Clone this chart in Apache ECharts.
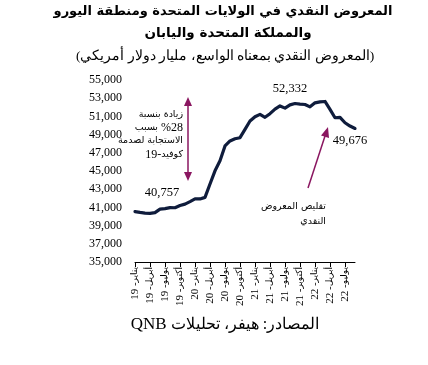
<!DOCTYPE html>
<html><head><meta charset="utf-8">
<script src="https://cdn.jsdelivr.net/npm/echarts@6/dist/echarts.min.js"></script>
<style>html,body{margin:0;padding:0;background:#fff}#c{width:428px;height:365px}</style>
</head><body><div id="c"></div>
<script>
const monthNames = ['يناير','فبراير','مارس','أبريل','مايو','يونيو','يوليو','أغسطس','سبتمبر','أكتوبر','نوفمبر','ديسمبر'];
const years = ['19','20','21','22'];
const monthCount = 45; // Jan 2019 .. Sep 2022
const categories = [];
for (let i = 0; i < monthCount; i++) categories.push(monthNames[i % 12] + '-' + years[Math.floor(i / 12)]);

const values2019 = [40540, 40450, 40380, 40350, 40430, 40810, 40870, 40980, 40960, 41200, 41360, 41630];
const values2020 = [41930, 41930, 42100, 43570, 45020, 46120, 47760, 48300, 48550, 48660, 49580, 50490];
const values2021 = [50960, 51220, 50900, 51300, 51800, 52150, 51910, 52270, 52420, 52350, 52310, 52050];
const values2022 = [52490, 52600, 52640, 51770, 50850, 50890, 50300, 49940, 49676];
const moneySupply = [].concat(values2019, values2020, values2021, values2022);

const yMin = 35000, yMax = 55000, yStep = 2000;

const titleLine1 = 'المعروض النقدي في الولايات المتحدة ومنطقة اليورو';
const titleLine2 = 'والمملكة المتحدة واليابان';
const subtitle = '(المعروض النقدي بمعناه الواسع، مليار دولار أمريكي)';
const sourceArabic = 'المصادر: هيفر، تحليلات';
const sourceLatin = 'QNB';
const labelStart = '40,757', labelPeak = '52,332', labelEnd = '49,676';

const serif = '"Liberation Serif", "DejaVu Serif", serif';
const sans = '"DejaVu Sans", "Liberation Sans", sans-serif';
const accent = '#8a1660';
const lineColor = '#0f1c3c';

const chart = echarts.init(document.getElementById('c'), null, {renderer: 'canvas'});

function txt(x, y, text, opts) {
  return Object.assign({type: 'text', x: x, y: y, style: Object.assign({
    text: text, fill: '#000', font: '12px ' + serif, align: 'center', verticalAlign: 'middle'
  }, opts || {})});
}
const noteRich = {
  ar: {fontFamily: sans, fontSize: 9.5, color: accent},
  nu: {fontFamily: serif, fontSize: 12, color: accent}
};

const graphics = [
  txt(223, 12, titleLine1, {font: 'bold 13px ' + sans}),
  txt(228, 33, titleLine2, {font: 'bold 13.5px ' + sans}),
  txt(225, 56, subtitle, {font: '13.5px ' + serif}),
  txt(225, 325, '{la|' + sourceLatin + ' }{ar|' + sourceArabic + '}', {
    rich: {la: {fontFamily: serif, fontSize: 17, color: '#000'}, ar: {fontFamily: serif, fontSize: 16, color: '#000'}}
  }),
  txt(162, 193, labelStart, {font: '12.5px ' + serif}),
  txt(290, 89, labelPeak, {font: '12.5px ' + serif}),
  txt(350, 141, labelEnd, {font: '12.5px ' + serif}),
  // annotation: increase due to covid response
  txt(183, 114.5, '{ar|زيادة بنسبة}', {align: 'right', rich: noteRich}),
  txt(183, 127.5, '{ar|بسبب}{nu| %28}', {align: 'right', rich: noteRich}),
  txt(183, 141, '{ar|الاستجابة لصدمة}', {align: 'right', rich: noteRich}),
  txt(183, 155, '{nu|19-}{ar|كوفيد}', {align: 'right', rich: noteRich}),
  // annotation: tightening
  txt(326, 207, '{ar|تقليص المعروض}', {align: 'right', rich: noteRich}),
  txt(326, 222, '{ar|النقدي}', {align: 'right', rich: noteRich}),
  // double arrow
  {type: 'line', shape: {x1: 188, y1: 104, x2: 188, y2: 174}, style: {stroke: accent, lineWidth: 1.5}},
  {type: 'polygon', shape: {points: [[188, 97], [184, 106], [192, 106]]}, style: {fill: accent}},
  {type: 'polygon', shape: {points: [[188, 181], [184, 172], [192, 172]]}, style: {fill: accent}},
  // single arrow
  {type: 'line', shape: {x1: 308, y1: 188, x2: 326, y2: 133}, style: {stroke: accent, lineWidth: 1.5}},
  {type: 'polygon', shape: {points: [[328, 127], [329, 138], [321, 135.5]]}, style: {fill: accent}}
];

chart.setOption({
  animation: false,
  backgroundColor: '#fff',
  grid: {left: 135, right: 73, top: 80, bottom: 103, containLabel: false},
  xAxis: {
    type: 'category', data: categories, boundaryGap: false,
    axisLine: {show: true, lineStyle: {color: '#000', width: 1}},
    axisTick: {show: true, interval: 2, length: 5, lineStyle: {color: '#000'}},
    axisLabel: {
      interval: 2, rotate: 90, color: '#000', margin: 5,
      formatter: function (v) {
        const parts = v.split('-');
        return '{y|' + parts[1] + ' -}{m|' + parts[0] + '}';
      },
      rich: {
        y: {fontFamily: serif, fontSize: 11, color: '#000'},
        m: {fontFamily: sans, fontSize: 9, color: '#000'}
      }
    },
    splitLine: {show: false}
  },
  yAxis: {
    type: 'value', min: yMin, max: yMax, interval: yStep,
    axisLine: {show: false}, axisTick: {show: false}, splitLine: {show: false},
    axisLabel: {color: '#000', fontSize: 12, fontFamily: serif, margin: 13,
      formatter: function (v) { return v.toLocaleString('en-US'); }}
  },
  series: [{
    type: 'line', data: moneySupply, showSymbol: false, smooth: false,
    lineStyle: {color: lineColor, width: 3.2, join: 'round', cap: 'round'}
  }],
  graphic: graphics
});
</script></body></html>
